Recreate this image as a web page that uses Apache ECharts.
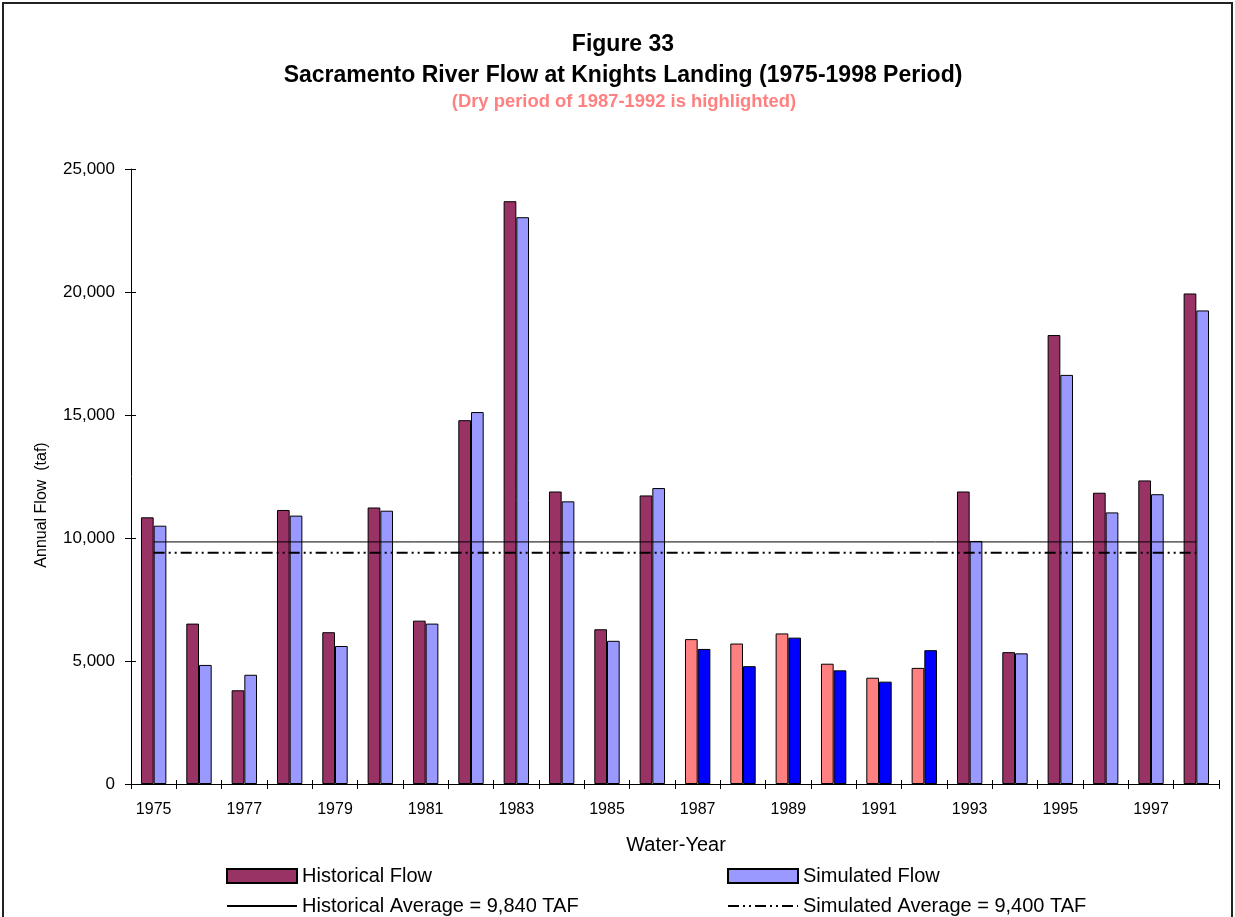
<!DOCTYPE html>
<html>
<head>
<meta charset="utf-8">
<script src="https://cdn.jsdelivr.net/npm/echarts@6/dist/echarts.min.js"></script>
<style>
  html, body { margin: 0; padding: 0; background: #fff; }
  #chart { width: 1235px; height: 917px; }
</style>
</head>
<body>
<div id="chart"></div>
<script>
// water years on the category axis
const years = ['1975', '1976', '1977', '1978', '1979', '1980', '1981', '1982', '1983', '1984', '1985', '1986',
  '1987', '1988', '1989', '1990', '1991', '1992', '1993', '1994', '1995', '1996', '1997', '1998'];

// annual flow, taf
const historicalFlow = [10840, 6520, 3810, 11140, 6170, 11240, 6640, 14790, 23690, 11890, 6290, 11730,
  5890, 5710, 6120, 4890, 4320, 4720, 11890, 5360, 18250, 11840, 12340, 19940];
const simulatedFlow = [10500, 4840, 4440, 10910, 5610, 11110, 6520, 15120, 23040, 11490, 5820, 12030,
  5490, 4790, 5950, 4620, 4160, 5440, 9880, 5310, 16630, 11040, 11780, 19250];

const historicalAverage = 9840;
const simulatedAverage = 9400;

// dry period that gets highlighted
const dryYears = ['1987', '1988', '1989', '1990', '1991', '1992'];

const yTicks = [0, 5000, 10000, 15000, 20000, 25000];

const colors = {
  hist: '#993366',
  sim: '#9999FF',
  histDry: '#FF8080',
  simDry: '#0000FF'
};

const FONT = '"Liberation Sans", Arial, sans-serif';

function barData(values, normal, dry) {
  return values.map((v, i) => ({
    value: v,
    itemStyle: { color: dryYears.includes(years[i]) ? dry : normal }
  }));
}

// one legend box per entry, laid out like the 2x2 key under the plot
function legendBox(name, left, top, isLine) {
  return {
    left: left,
    top: top,
    padding: 0,
    itemWidth: 70,
    itemHeight: 14,
    icon: isLine ? undefined : 'rect',
    textStyle: { fontSize: 20, lineHeight: 20, fontFamily: FONT, color: '#000' },
    data: [isLine ? { name: name, itemStyle: { opacity: 0 } } : name]
  };
}

const chart = echarts.init(document.getElementById('chart'), null, { renderer: 'canvas' });

const option = {
  animation: false,
  textStyle: { fontFamily: FONT, color: '#000' },
  graphic: [
    {
      type: 'rect',
      shape: { x: 3, y: 3, width: 1229, height: 960 },
      style: { fill: 'none', stroke: '#222', lineWidth: 2 },
      silent: true
    },
    {
      type: 'text', x: 623, y: 45,
      style: { text: 'Figure 33', font: 'bold 23px ' + FONT, fill: '#000', textAlign: 'center', textVerticalAlign: 'middle' }
    },
    {
      type: 'text', x: 623, y: 76,
      style: { text: 'Sacramento River Flow at Knights Landing (1975-1998 Period)', font: 'bold 23px ' + FONT, fill: '#000', textAlign: 'center', textVerticalAlign: 'middle' }
    },
    {
      type: 'text', x: 624, y: 102,
      style: { text: '(Dry period of 1987-1992 is highlighted)', font: 'bold 18.4px ' + FONT, fill: '#FF8080', textAlign: 'center', textVerticalAlign: 'middle' }
    },
    {
      type: 'text', x: 42, y: 505, rotation: Math.PI / 2,
      style: { text: 'Annual Flow  (taf)', font: '16px ' + FONT, fill: '#000', textAlign: 'center', textVerticalAlign: 'middle' }
    },
    {
      type: 'text', x: 676, y: 845,
      style: { text: 'Water-Year', font: '20px ' + FONT, fill: '#000', textAlign: 'center', textVerticalAlign: 'middle' }
    }
  ],
  legend: [
    legendBox('Historical Flow', 226, 866, false),
    legendBox('Historical Average = 9,840 TAF', 226, 896, true),
    legendBox('Simulated Flow', 727, 866, false),
    legendBox('Simulated Average = 9,400 TAF', 727, 896, true)
  ],
  grid: { left: 131, right: 16, top: 169, bottom: 133, containLabel: false },
  xAxis: [
    {
      type: 'category',
      data: years,
      axisLine: { lineStyle: { color: '#000', width: 1 } },
      axisTick: { show: true, interval: 0, length: 5, lineStyle: { color: '#000' } },
      axisLabel: { interval: 1, margin: 18, fontSize: 16, color: '#000', fontFamily: FONT },
      splitLine: { show: false }
    },
    {
      type: 'category',
      data: years,
      position: 'bottom',
      axisLine: { show: false },
      axisTick: { show: true, inside: true, interval: 0, length: 4, lineStyle: { color: '#000' } },
      axisLabel: { show: false },
      splitLine: { show: false }
    }
  ],
  yAxis: [
    {
      type: 'value',
      min: yTicks[0],
      max: yTicks[yTicks.length - 1],
      interval: yTicks[1] - yTicks[0],
      axisLine: { show: true, lineStyle: { color: '#000', width: 1 } },
      axisTick: { show: true, length: 6, lineStyle: { color: '#000' } },
      axisLabel: {
        margin: 16, fontSize: 17, color: '#000', fontFamily: FONT,
        formatter: v => v.toLocaleString('en-US')
      },
      splitLine: { show: false }
    },
    {
      type: 'value',
      position: 'left',
      min: yTicks[0],
      max: yTicks[yTicks.length - 1],
      interval: yTicks[1] - yTicks[0],
      axisLine: { show: false },
      axisTick: { show: true, inside: true, length: 5, lineStyle: { color: '#000' } },
      axisLabel: { show: false },
      splitLine: { show: false }
    }
  ],
  series: [
    {
      name: 'Historical Flow',
      type: 'bar',
      barGap: '0%',
      barCategoryGap: '44%',
      itemStyle: { color: colors.hist, borderColor: '#000', borderWidth: 1 },
      data: barData(historicalFlow, colors.hist, colors.histDry)
    },
    {
      name: 'Simulated Flow',
      type: 'bar',
      barGap: '0%',
      barCategoryGap: '44%',
      itemStyle: { color: colors.sim, borderColor: '#000', borderWidth: 1 },
      data: barData(simulatedFlow, colors.sim, colors.simDry)
    },
    {
      name: 'Historical Average = 9,840 TAF',
      type: 'line',
      symbol: 'none',
      z: 5,
      lineStyle: { color: '#000', width: 1, type: 'solid' },
      itemStyle: { color: '#000' },
      data: [[years[0], historicalAverage], [years[years.length - 1], historicalAverage]]
    },
    {
      name: 'Simulated Average = 9,400 TAF',
      type: 'line',
      symbol: 'none',
      z: 5,
      lineStyle: { color: '#000', width: 2, type: [11, 4, 2, 4, 2, 4] },
      itemStyle: { color: '#000' },
      data: [[years[0], simulatedAverage], [years[years.length - 1], simulatedAverage]]
    }
  ]
};

chart.setOption(option);
</script>
</body>
</html>
